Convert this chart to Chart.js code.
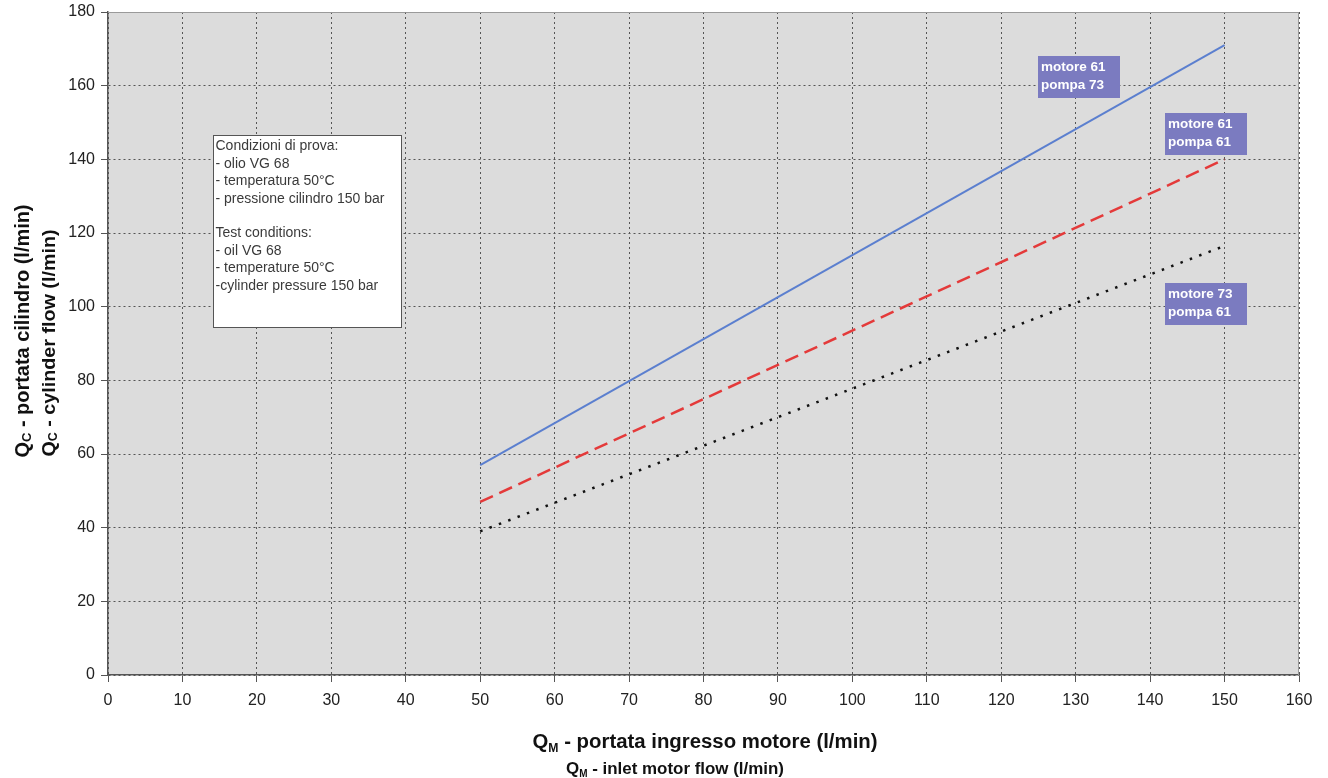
<!DOCTYPE html>
<html>
<head>
<meta charset="utf-8">
<script src="https://cdn.jsdelivr.net/npm/chart.js@4.4.1/dist/chart.umd.min.js"></script>
<style>
  html, body { margin: 0; padding: 0; background: #ffffff; }
  #c { display: block; }
</style>
</head>
<body>
<canvas id="c" width="1328" height="778"></canvas>
<script>
// ---- data ----
const xValues = [50, 150];
const motore61pompa73 = [57, 171];
const motore61pompa61 = [47, 140];
const motore73pompa61 = [39, 116.5];
const seriesLabels = ['motore 61 pompa 73', 'motore 61 pompa 61', 'motore 73 pompa 61'];
const xTicks = [0, 10, 20, 30, 40, 50, 60, 70, 80, 90, 100, 110, 120, 130, 140, 150, 160];
const yTicks = [0, 20, 40, 60, 80, 100, 120, 140, 160, 180];
const boxLines = ['Condizioni di prova:', '- olio VG 68', '- temperatura 50°C', '- pressione cilindro 150 bar', '',
  'Test conditions:', '- oil VG 68', '- temperature 50°C', '-cylinder pressure 150 bar'];
const tagLines = [['motore 61', 'pompa 73'], ['motore 61', 'pompa 61'], ['motore 73', 'pompa 61']];

const FONT = '"Liberation Sans", Arial, sans-serif';

function pts(ys) { return xValues.map((x, i) => ({ x: x, y: ys[i] })); }

// draw a text run with a subscript, centred on cx; optional horizontal condensing to a target width
function drawRich(ctx, segs, cx, baseline, targetW) {
  let w = 0;
  segs.forEach(s => { ctx.font = s.f; w += ctx.measureText(s.t).width; });
  ctx.save();
  ctx.translate(cx, baseline);
  if (targetW) ctx.scale(targetW / w, 1);
  let x = -w / 2;
  ctx.textAlign = 'left';
  ctx.textBaseline = 'alphabetic';
  segs.forEach(s => { ctx.font = s.f; ctx.fillText(s.t, x, (s.dy || 0)); x += ctx.measureText(s.t).width; });
  ctx.restore();
}

const overlay = {
  id: 'overlay',
  beforeDraw(chart) {
    const { ctx, chartArea: a } = chart;
    ctx.save();
    ctx.fillStyle = '#dcdcdc';
    ctx.fillRect(a.left, a.top, a.right - a.left, a.bottom - a.top);
    ctx.restore();
  },
  afterDatasetsDraw(chart) {
    const { ctx, chartArea: a, scales: { x, y } } = chart;
    ctx.save();
    ctx.strokeStyle = '#9a9a9a';
    ctx.lineWidth = 1;
    ctx.setLineDash([]);
    ctx.beginPath();
    ctx.moveTo(a.left, a.top + 0.5); ctx.lineTo(a.right - 0.5, a.top + 0.5); ctx.lineTo(a.right - 0.5, a.bottom);
    ctx.stroke();

    // conditions box
    const bx = Math.round(x.getPixelForValue(14.06)) + 0.5, by = Math.round(y.getPixelForValue(146.5)) + 0.5;
    ctx.fillStyle = '#ffffff';
    ctx.fillRect(bx, by, 188, 192);
    ctx.strokeStyle = '#555555';
    ctx.lineWidth = 1;
    ctx.strokeRect(bx, by, 188, 192);
    ctx.fillStyle = '#3a3a3a';
    ctx.textAlign = 'left';
    ctx.textBaseline = 'middle';
    ctx.font = '14px ' + FONT;
    boxLines.forEach((l, i) => ctx.fillText(l, bx + 2, by + 11 + i * 17.4));

    // series tags
    const tags = [[125.0, 168.0], [142.0, 152.5], [142.0, 106.3]];
    tags.forEach((t, i) => {
      const tx = Math.round(x.getPixelForValue(t[0])), ty = Math.round(y.getPixelForValue(t[1]));
      ctx.fillStyle = '#7b7bc0';
      ctx.fillRect(tx, ty, 82, 42);
      ctx.fillStyle = '#ffffff';
      ctx.font = 'bold 13.5px ' + FONT;
      ctx.textBaseline = 'middle';
      ctx.fillText(tagLines[i][0], tx + 3, ty + 11);
      ctx.fillText(tagLines[i][1], tx + 3, ty + 29);
    });
    ctx.restore();
  },
  afterDraw(chart) {
    const { ctx } = chart;
    ctx.save();
    ctx.fillStyle = '#111111';
    drawRich(ctx, [
      { t: 'Q', f: 'bold 20px ' + FONT },
      { t: 'M', f: 'bold 12px ' + FONT, dy: 4 },
      { t: ' - portata ingresso motore (l/min)', f: 'bold 20px ' + FONT }
    ], 705, 748, 345);
    drawRich(ctx, [
      { t: 'Q', f: 'bold 17px ' + FONT },
      { t: 'M', f: 'bold 10px ' + FONT, dy: 3 },
      { t: ' - inlet motor flow (l/min)', f: 'bold 17px ' + FONT }
    ], 675, 774, 218);

    ctx.save();
    ctx.translate(29, 331);
    ctx.rotate(-Math.PI / 2);
    drawRich(ctx, [
      { t: 'Q', f: 'bold 20px ' + FONT },
      { t: 'C', f: 'bold 13px ' + FONT, dy: 2 },
      { t: ' - portata cilindro (l/min)', f: 'bold 20px ' + FONT }
    ], 0, 0, 253);
    ctx.restore();
    ctx.save();
    ctx.translate(55, 343);
    ctx.rotate(-Math.PI / 2);
    drawRich(ctx, [
      { t: 'Q', f: 'bold 19px ' + FONT },
      { t: 'C', f: 'bold 12px ' + FONT, dy: 2 },
      { t: ' - cylinder flow (l/min)', f: 'bold 19px ' + FONT }
    ], 0, 0, 227);
    ctx.restore();
    ctx.restore();
  }
};

const gridCommon = {
  color: '#555555',
  lineWidth: 1,
  tickLength: 7,
  tickColor: '#555555',
  tickBorderDash: [],
  drawTicks: true
};

new Chart(document.getElementById('c'), {
  type: 'line',
  data: {
    datasets: [
      { label: seriesLabels[0], data: pts(motore61pompa73), borderColor: '#5b7fcf', borderWidth: 2, pointRadius: 0, fill: false },
      { label: seriesLabels[1], data: pts(motore61pompa61), borderColor: '#e43a3a', borderWidth: 2.5, borderDash: [14, 7], pointRadius: 0, fill: false },
      { label: seriesLabels[2], data: pts(motore73pompa61), borderColor: '#111111', borderWidth: 2.5, borderDash: [2.5, 7.5], pointRadius: 0, fill: false }
    ]
  },
  options: {
    responsive: false,
    animation: false,
    layout: { padding: { top: 12, right: 29, left: 0, bottom: 0 } },
    plugins: { legend: { display: false }, tooltip: { enabled: false }, title: { display: false } },
    scales: {
      x: {
        type: 'linear', min: 0, max: 160,
        afterBuildTicks: s => { s.ticks = xTicks.map(v => ({ value: v })); },
        afterFit: s => { s.height = 103; s.paddingLeft = 0; s.paddingRight = 0; },
        grid: gridCommon,
        border: { display: true, color: '#555555', width: 1.5, dash: [2, 3] },
        ticks: { color: '#222222', font: { family: FONT, size: 16 }, padding: 9, maxRotation: 0 }
      },
      y: {
        type: 'linear', min: 0, max: 180,
        afterBuildTicks: s => { s.ticks = yTicks.map(v => ({ value: v })); },
        afterFit: s => { s.width = 108; s.paddingTop = 0; s.paddingBottom = 0; },
        grid: gridCommon,
        border: { display: true, color: '#555555', width: 1.5, dash: [2, 3] },
        ticks: { color: '#222222', font: { family: FONT, size: 16 }, padding: 6 }
      }
    }
  },
  plugins: [overlay]
});
</script>
</body>
</html>
